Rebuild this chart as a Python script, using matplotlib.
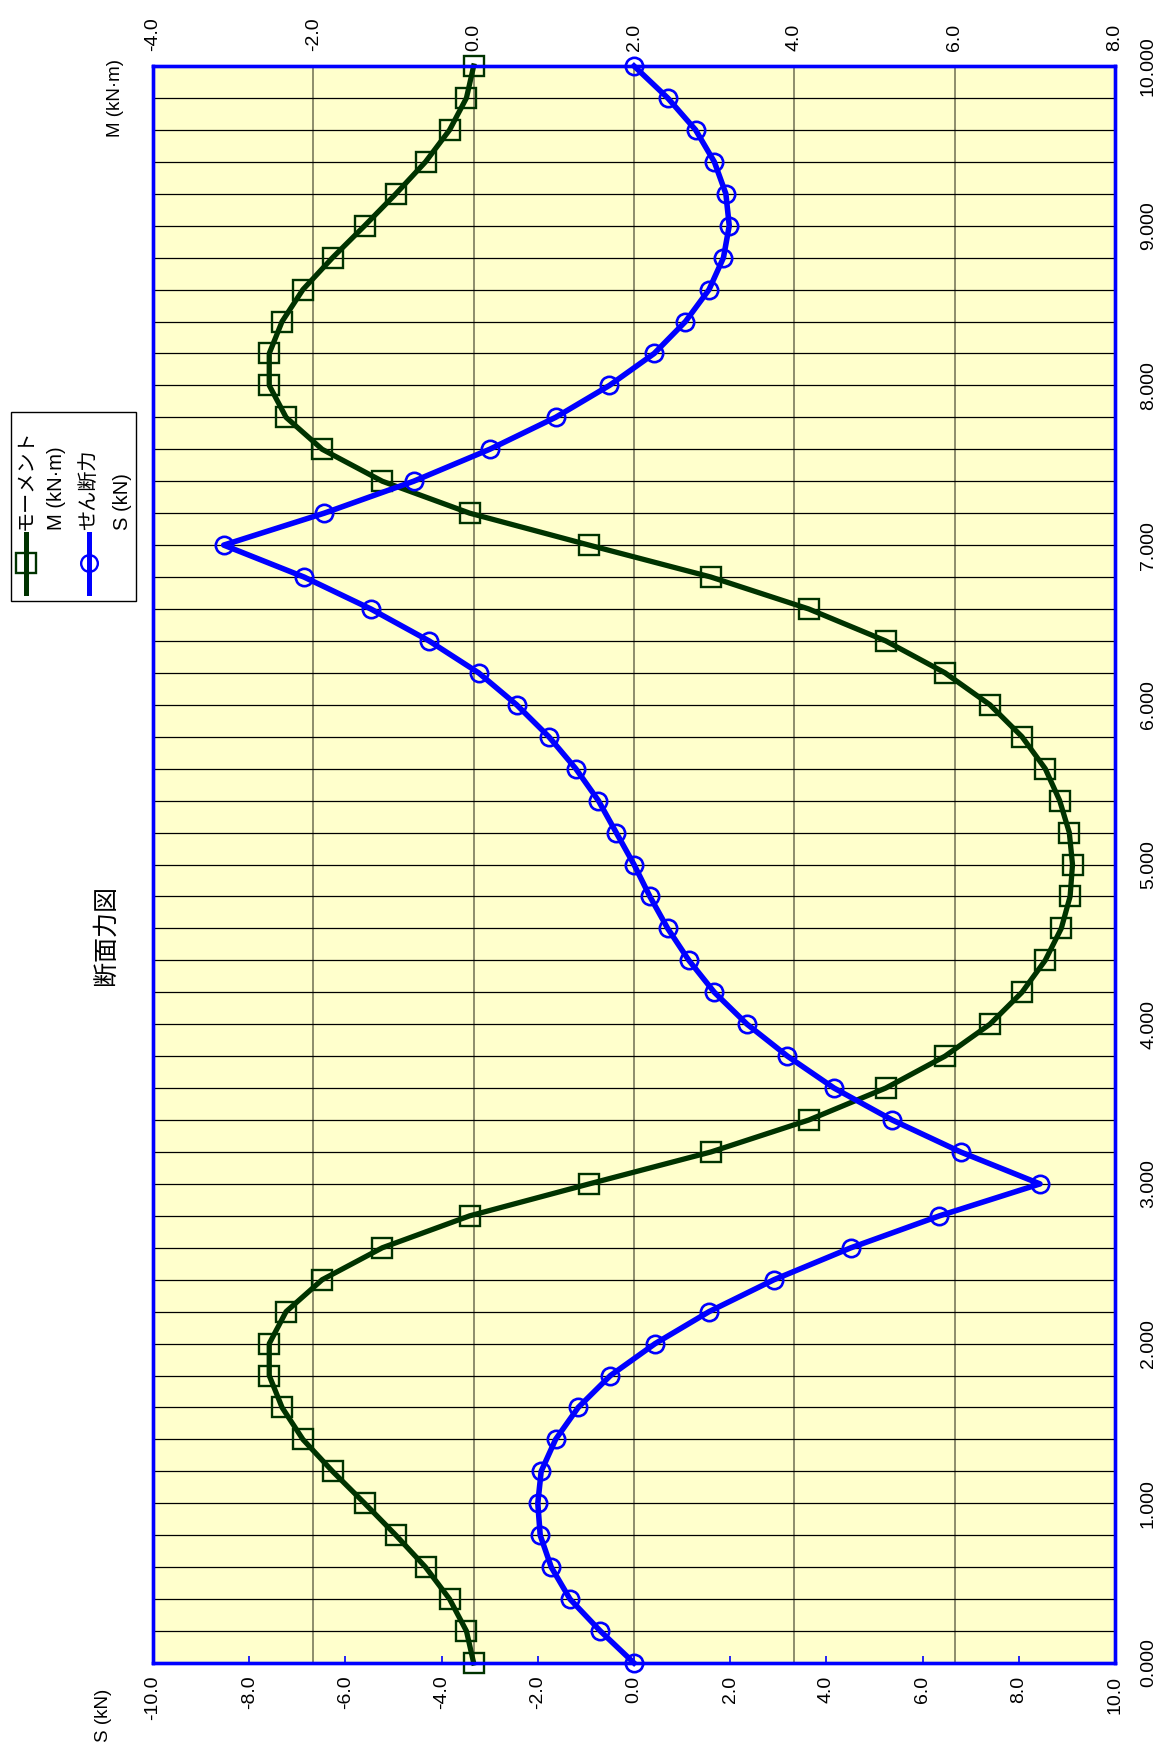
import numpy as np
import matplotlib
matplotlib.use("Agg")
import matplotlib.pyplot as plt
from matplotlib.ticker import FormatStrFormatter, MultipleLocator
from matplotlib.lines import Line2D
from matplotlib.patches import Rectangle

plt.rcParams['font.family'] = ['Liberation Sans', 'Noto Sans CJK JP', 'DejaVu Sans']

# distance along member (m), every 0.2 m
distance = [0.0, 0.2, 0.4, 0.6, 0.8, 1.0, 1.2, 1.4, 1.6, 1.8, 2.0, 2.2, 2.4, 2.6, 2.8,
            3.0, 3.2, 3.4, 3.6, 3.8, 4.0, 4.2, 4.4, 4.6, 4.8, 5.0, 5.2, 5.4, 5.6, 5.8,
            6.0, 6.2, 6.4, 6.6, 6.8, 7.0, 7.2, 7.4, 7.6, 7.8, 8.0, 8.2, 8.4, 8.6, 8.8,
            9.0, 9.2, 9.4, 9.6, 9.8, 10.0]
# moment M (kN·m)
moment = [0.00, -0.09, -0.30, -0.60, -0.97, -1.36, -1.76, -2.13, -2.39, -2.55, -2.55,
          -2.34, -1.89, -1.14, -0.05, 1.44, 2.96, 4.18, 5.14, 5.88, 6.44, 6.84, 7.13,
          7.33, 7.44, 7.47, 7.43, 7.31, 7.13, 6.84, 6.44, 5.88, 5.14, 4.18, 2.96, 1.44,
          -0.05, -1.14, -1.89, -2.34, -2.55, -2.55, -2.39, -2.13, -1.76, -1.36, -0.97,
          -0.60, -0.30, -0.09, 0.00]
# shear S (kN)
shear = [0.00, -0.70, -1.33, -1.72, -1.95, -2.00, -1.93, -1.63, -1.16, -0.49, 0.44,
         1.56, 2.91, 4.51, 6.35, 8.44, 6.79, 5.37, 4.16, 3.19, 2.35, 1.67, 1.14, 0.70,
         0.33, 0.00, -0.37, -0.74, -1.21, -1.77, -2.44, -3.23, -4.26, -5.47, -6.86,
         -8.53, -6.44, -4.58, -3.00, -1.63, -0.51, 0.42, 1.07, 1.56, 1.86, 1.98, 1.91,
         1.67, 1.28, 0.70, 0.00]

title = "断面力図"
m_label = "モーメント\nM (kN·m)"
s_label = "せん断力\nS (kN)"
m_axis_label = "M (kN·m)"
s_axis_label = "S (kN)"

W, H = 1160, 1754
fig = plt.figure(figsize=(W / 100, H / 100), dpi=100)

left, right, top, bottom = 153, 1115, 66, 1663
ax = fig.add_axes([left / W, 1 - bottom / H, (right - left) / W, (bottom - top) / H])
ax.set_facecolor('#ffffcc')
ax.set_xlim(-4, 8)
ax.set_ylim(0, 10)

ax.yaxis.set_major_locator(MultipleLocator(1))
ax.yaxis.set_minor_locator(MultipleLocator(0.2))
ax.yaxis.set_major_formatter(FormatStrFormatter('%.3f'))
ax.yaxis.tick_right()
ax.tick_params(axis='y', which='both', length=0, pad=18, labelsize=14)
for t in ax.get_yticklabels():
    t.set_rotation(90)
    t.set_va('center')

ax.grid(axis='x', which='major', color='#7a7a5c', lw=1.2)
ax.grid(axis='y', which='both', color='black', lw=0.9)
ax.set_axisbelow(True)

ax.plot(moment, distance, color='#003300', lw=3.8, marker='s', ms=14.5,
        mfc='none', mec='#003300', mew=1.7, clip_on=False, zorder=3)

ax2 = ax.twiny()
ax2.set_xlim(-10, 10)
ax2.xaxis.set_major_locator(MultipleLocator(2))
ax2.xaxis.set_major_formatter(FormatStrFormatter('%.1f'))
ax2.xaxis.tick_bottom()
ax2.tick_params(axis='x', which='both', direction='in', length=5, width=1.2,
                color='#0000ff', pad=9, labelsize=14, labelrotation=90)
ax2.plot(shear, distance, color='#0000ff', lw=4.0, marker='o', ms=12.5,
         mfc='none', mec='#0000ff', mew=1.9, clip_on=False, zorder=4)

# M axis on top (after twiny, which moves it to the bottom)
ax.xaxis.set_major_locator(MultipleLocator(2))
ax.xaxis.set_major_formatter(FormatStrFormatter('%.1f'))
ax.xaxis.tick_top()
ax.tick_params(axis='x', which='both', length=0, pad=11, labelsize=14, labelrotation=90)

for a in (ax, ax2):
    for s in a.spines.values():
        s.set_color('#0000ff')
        s.set_linewidth(2.4)

# axis titles and chart title (rotated page)
fig.text(103 / W, 1 - 1715 / H, s_axis_label, rotation=90, ha='center', va='center', fontsize=13.5)
fig.text(115 / W, 1 - 98 / H, m_axis_label, rotation=90, ha='center', va='center', fontsize=13.5)
fig.text(106 / W, 1 - 935 / H, title, rotation=90, ha='center', va='center', fontsize=18)

# legend (rotated)
fig.add_artist(Rectangle((11 / W, 1 - 601 / H), 125 / W, 189 / H, transform=fig.transFigure,
                         facecolor='white', edgecolor='black', lw=1.0))
entries = [(m_label, '#003300', 's', 14, 26, 57), (s_label, '#0000ff', 'o', 12, 89, 122)]
for lab, col, mk, ms, x1, x2 in entries:
    fig.add_artist(Line2D([x1 / W, x1 / W], [1 - 593 / H, 1 - 534 / H], transform=fig.transFigure,
                          color=col, lw=3.6))
    fig.add_artist(Line2D([x1 / W], [1 - 563 / H], transform=fig.transFigure, color=col,
                          marker=mk, ms=ms, mfc='none', mec=col, mew=1.7, lw=0))
    l1, l2 = lab.split('\n')
    fig.text(x1 / W, 1 - 530 / H, l1, rotation=90, ha='center', va='bottom', fontsize=14.5)
    fig.text(x2 / W, 1 - 530 / H, l2, rotation=90, ha='center', va='bottom', fontsize=14.5)

fig.savefig('out.png', dpi=100)
